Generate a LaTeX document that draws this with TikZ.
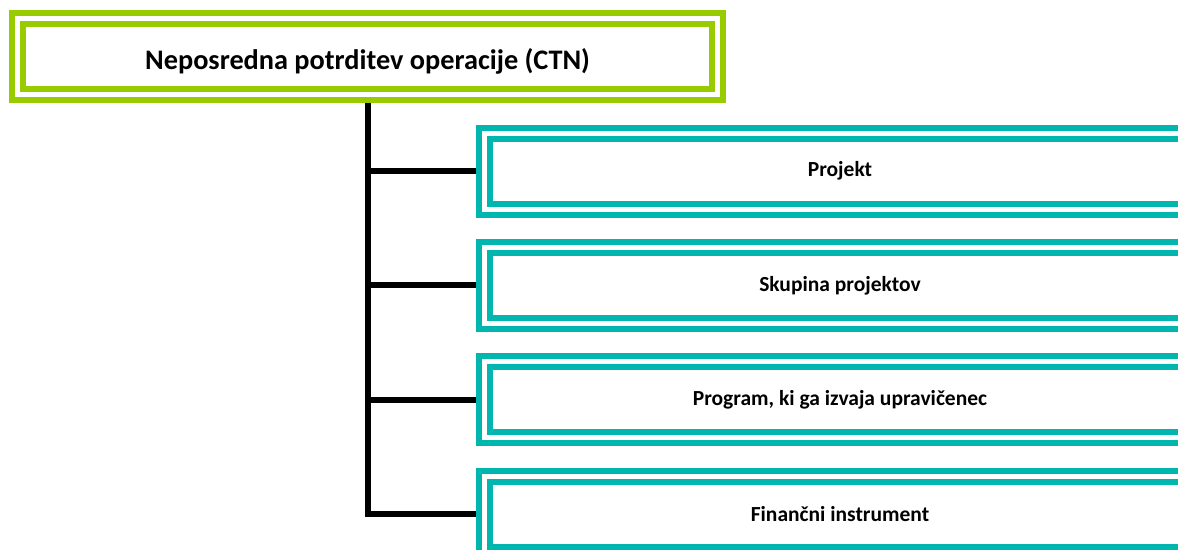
\documentclass[tikz,border=0pt]{standalone}
\usepackage{fontspec}
\setmainfont{Carlito}
\definecolor{cgreen}{RGB}{153,204,0}
\definecolor{cteal}{RGB}{0,182,174}
\tikzset{
  dbox/.style={draw=#1, line width=6pt, double=white, double distance=5pt,
    minimum height=76pt, inner sep=0pt, outer sep=8.5pt},
  title/.style={dbox=cgreen, minimum width=700pt, text depth=0pt, text height=25pt,
    font=\bfseries\fontsize{28.3}{32}\selectfont},
  item/.style={dbox=cteal, minimum width=711pt,
    font=\bfseries\fontsize{21.5}{26}\selectfont},
  conn/.style={draw=black, line width=6pt}
}
\begin{document}
\begin{tikzpicture}[x=1pt,y=-1pt]
\useasboundingbox (0,0) rectangle (1178,549);
\begin{scope}
\clip (0,0) rectangle (1178,549);
\node[title] (top) at (367.6,56.5) {Neposredna potrditev operacije (CTN)};
\node[item] (b1) at (840,171) {Projekt};
\node[item] (b2) at (840,285.3) {Skupina projektov};
\node[item] (b3) at (840,399.6) {Program, ki ga izvaja upravičenec};
\node[item] (b4) at (840,514) {Finančni instrument};
\draw[conn] (top.south) |- (b4.west);
\draw[conn] (top.south |- b1.west) -- (b1.west);
\draw[conn] (top.south |- b2.west) -- (b2.west);
\draw[conn] (top.south |- b3.west) -- (b3.west);
\end{scope}
\end{tikzpicture}
\end{document}
